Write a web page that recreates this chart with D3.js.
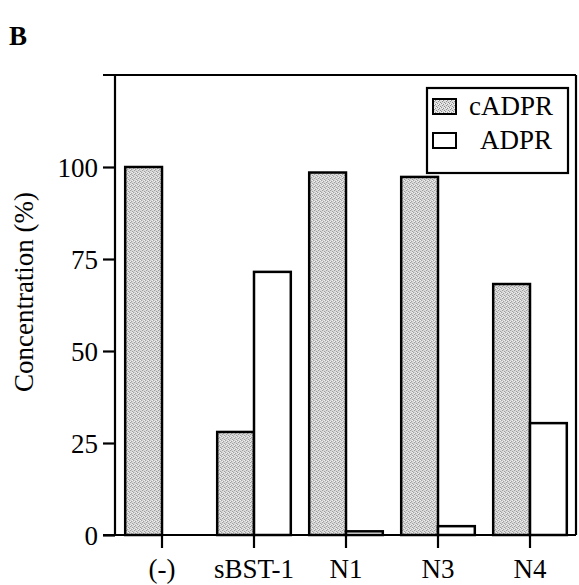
<!DOCTYPE html>
<html>
<head>
<meta charset="utf-8">
<script src="https://cdn.jsdelivr.net/npm/d3@7"></script>
<style>
  body { margin: 0; background: #fff; }
</style>
</head>
<body>
<svg id="chart" width="579" height="585" font-family="Liberation Serif"></svg>
<script>
// datos
const categorias = ["(-)", "sBST-1", "N1", "N3", "N4"]
const series = ["cADPR", "ADPR"]
const cADPR = [100, 28, 98.5, 97.3, 68.2]
const ADPR = [0, 71.5, 1, 2.4, 30.4]
const ticksY = [0, 25, 50, 75, 100]

const fuente = "Liberation Serif"
const svg = d3.select('#chart')
const izq = 115, der = 576, arriba = 75, abajo = 535

const x = d3.scaleBand()
    .domain(categorias)
    .range([izq + 1, der])
    .paddingInner(0.2)
    .paddingOuter(0.1)

const xs = d3.scaleBand()
    .domain(series)
    .range([0, x.bandwidth()])

const y = d3.scaleLinear()
    .domain([0, 125])
    .range([abajo, arriba])

// patron punteado gris
const defs = svg.append('defs')
const pat = defs.append('pattern')
    .attr('id', 'punteado')
    .attr('width', 4).attr('height', 4)
    .attr('patternUnits', 'userSpaceOnUse')
pat.append('rect').attr('width', 4).attr('height', 4).attr('fill', '#dcdcdc')
const puntos = [[0, 0], [2, 1], [1, 2], [3, 3], [3, 0], [1, 1]]
pat.selectAll('rect.p').data(puntos).join('rect')
    .attr('class', 'p')
    .attr('x', d => d[0]).attr('y', d => d[1])
    .attr('width', 1).attr('height', 1)
    .attr('fill', (d, i) => i < 4 ? '#8e8e8e' : '#f6f6f6')

const filas = categorias.map((c, i) => ({ cat: c, valores: [cADPR[i], ADPR[i]] }))

const grupos = svg.append('g').selectAll('g')
    .data(filas)
    .join('g')
    .attr('transform', d => `translate(${x(d.cat)},0)`)

grupos.selectAll('rect')
    .data(d => d.valores.map((v, j) => ({ serie: series[j], v })))
    .join('rect')
    .attr('x', d => xs(d.serie))
    .attr('y', d => y(d.v))
    .attr('width', xs.bandwidth())
    .attr('height', d => y(0) - y(d.v))
    .attr('fill', d => d.serie === 'cADPR' ? 'url(#punteado)' : '#fff')
    .attr('stroke', '#000')
    .attr('stroke-width', 2.5)

// marco
const marco = svg.append('g').attr('stroke', '#000').attr('stroke-width', 2.2).attr('fill', 'none')
marco.append('line').attr('x1', 103).attr('x2', der).attr('y1', arriba).attr('y2', arriba)
marco.append('line').attr('x1', der).attr('x2', der).attr('y1', arriba).attr('y2', abajo)
marco.append('line').attr('x1', izq).attr('x2', izq).attr('y1', arriba).attr('y2', abajo)
marco.append('line').attr('x1', 103).attr('x2', der).attr('y1', abajo).attr('y2', abajo)

// ejes
const ejeY = svg.append('g')
    .attr('transform', `translate(${izq},0)`)
    .call(d3.axisLeft(y).tickValues(ticksY).tickSize(12).tickSizeOuter(0).tickPadding(5))
ejeY.attr('font-family', fuente).attr('font-size', 27)
ejeY.select('.domain').remove()
ejeY.selectAll('line').attr('stroke-width', 2.2)
ejeY.selectAll('text').attr('dy', '0.34em')

const ejeX = svg.append('g')
    .attr('transform', `translate(0,${abajo})`)
    .call(d3.axisBottom(x).tickSize(13).tickSizeOuter(0))
ejeX.attr('font-family', fuente).attr('font-size', 27)
ejeX.select('.domain').remove()
ejeX.selectAll('line').attr('stroke-width', 2.2)
ejeX.selectAll('text').attr('y', 43).attr('dy', 0)

// titulo del eje y
svg.append('text')
    .attr('transform', 'translate(33,292) rotate(-90)')
    .attr('text-anchor', 'middle')
    .attr('font-family', fuente)
    .attr('font-size', 27)
    .text('Concentration (%)')

// letra del panel
svg.append('text')
    .attr('x', 9).attr('y', 45)
    .attr('font-family', fuente)
    .attr('font-size', 27)
    .attr('font-weight', 'bold')
    .text('B')

// leyenda
const ley = svg.append('g')
ley.append('rect')
    .attr('x', 427).attr('y', 88).attr('width', 141).attr('height', 85)
    .attr('fill', '#fff').attr('stroke', '#000').attr('stroke-width', 2.2)
const items = ley.selectAll('g.item')
    .data(series)
    .join('g')
    .attr('class', 'item')
    .attr('transform', (d, i) => `translate(433,${99 + i * 34})`)
items.append('rect')
    .attr('width', 23).attr('height', 15)
    .attr('fill', d => d === 'cADPR' ? 'url(#punteado)' : '#fff')
    .attr('stroke', '#000').attr('stroke-width', 2)
items.append('text')
    .attr('x', (d, i) => i === 0 ? 36 : 47)
    .attr('y', 16)
    .attr('font-family', fuente)
    .attr('font-size', 27)
    .text(d => d)
</script>
</body>
</html>
